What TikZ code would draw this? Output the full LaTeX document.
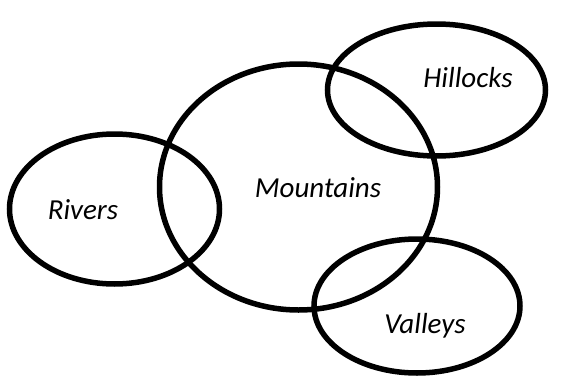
\documentclass[tikz,border=0pt]{standalone}
\usepackage{fontspec}
\setmainfont{Carlito}
\usetikzlibrary{shapes.geometric}
\tikzset{
  ring/.style={draw=black, line width=5.5pt, ellipse, inner sep=0pt, outer sep=0pt},
  lbl/.style={font=\fontsize{29}{34}\selectfont\itshape, inner sep=0pt}
}
\begin{document}
\begin{tikzpicture}[x=1pt, y=-1pt]
\useasboundingbox[fill=white] (0,0) rectangle (574,378);
\node[ring, minimum width=278pt, minimum height=246pt] (mountains) at (298.5,187) {};
\node[ring, minimum width=218pt, minimum height=132pt] (hillocks) at (436.5,90) {};
\node[ring, minimum width=210pt, minimum height=150pt] (rivers) at (114.5,209) {};
\node[ring, minimum width=206pt, minimum height=134pt] (valleys) at (417,306) {};
\node[lbl] (tm) at (318,188) {Mountains};
\node[lbl] (th) at (468,78) {Hillocks};
\node[lbl] (tr) at (83,210) {Rivers};
\node[lbl] (tv) at (425,326) {Valleys};
\end{tikzpicture}
\end{document}
